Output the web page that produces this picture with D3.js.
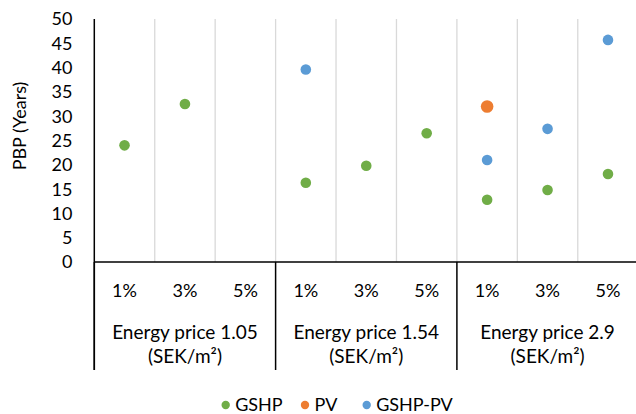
<!DOCTYPE html>
<html><head><meta charset="utf-8">
<script src="https://cdn.jsdelivr.net/npm/d3@7"></script>
<style>
html,body{margin:0;padding:0;background:#fff;}
svg{display:block;font-family:Lato,"Open Sans",sans-serif;}
</style></head>
<body><svg id="chart" width="636" height="414"></svg>
<script>
const groups = ["Energy price 1.05", "Energy price 1.54", "Energy price 2.9"];
const groupUnits = ["(SEK/m²)", "(SEK/m²)", "(SEK/m²)"];
const rates = ["1%", "3%", "5%"];
const gshp    = [24.0, 32.5, null, 16.3, 19.8, 26.5, 12.8, 14.8, 18.1];
const pv      = [null, null, null, null, null, null, 32.0, null, null];
const gshpPv  = [null, null, null, 39.6, null, null, 21.0, 27.4, 45.7];
const yTicks = [0,5,10,15,20,25,30,35,40,45,50];
const seriesNames = ["GSHP", "PV", "GSHP-PV"];
const seriesColors = ["#70AD47", "#ED7D31", "#5B9BD5"];
const seriesRadius = [5.3, 6.3, 5.3];

const svg = d3.select("#chart");
const M = {left: 94.3, right: 638.2, top: 19, bottom: 262, axisBottom: 370};

const cats = [];
groups.forEach((g, gi) => rates.forEach((r, ri) => cats.push({key: gi + "|" + r, group: gi, rate: r})));

const x = d3.scaleBand().domain(cats.map(c => c.key)).range([M.left, M.right]).padding(0);
const y = d3.scaleLinear().domain([0, 50]).range([M.bottom, M.top]);

// vertical gridlines at category boundaries
const boundaries = cats.slice(1).map(c => x(c.key));
svg.append("g").selectAll("line").data(boundaries).join("line")
  .attr("x1", d => d).attr("x2", d => d)
  .attr("y1", M.top).attr("y2", M.bottom)
  .attr("stroke", "#d9d9d9").attr("stroke-width", 1.3);

// group separators below the axis
const groupEdges = groups.map((g, gi) => x(gi + "|" + rates[0])).concat([x(cats[cats.length-1].key) + x.bandwidth()]);
svg.append("g").selectAll("line").data(groupEdges).join("line")
  .attr("x1", d => d).attr("x2", d => d)
  .attr("y1", M.bottom).attr("y2", M.axisBottom)
  .attr("stroke", "#000").attr("stroke-width", 1.5);

// y axis
svg.append("line").attr("x1", M.left).attr("x2", M.left).attr("y1", M.top).attr("y2", M.axisBottom)
  .attr("stroke", "#000").attr("stroke-width", 1.5);
// x axis
svg.append("line").attr("x1", M.left).attr("x2", M.right).attr("y1", M.bottom).attr("y2", M.bottom)
  .attr("stroke", "#000").attr("stroke-width", 1.5);

// y tick labels
svg.append("g").selectAll("text").data(yTicks).join("text")
  .attr("x", 72.5).attr("y", d => y(d)).attr("dy", "0.36em")
  .attr("text-anchor", "end").attr("font-size", 18).attr("fill", "#000")
  .text(d => d);

// y title
svg.append("text").attr("transform", "translate(26,126) rotate(-90)")
  .attr("text-anchor", "middle").attr("font-size", 18).attr("fill", "#000")
  .text("PBP (Years)");

// category labels
svg.append("g").selectAll("text").data(cats).join("text")
  .attr("x", d => x(d.key) + x.bandwidth()/2).attr("y", 296.5)
  .attr("text-anchor", "middle").attr("font-size", 18).attr("fill", "#000")
  .text(d => d.rate);

// group labels
groups.forEach((g, gi) => {
  const cx = (groupEdges[gi] + groupEdges[gi+1]) / 2;
  svg.append("text").attr("x", cx).attr("y", 338.5).attr("text-anchor", "middle")
    .attr("font-size", 19).attr("fill", "#000").text(g);
  svg.append("text").attr("x", cx).attr("y", 362.5).attr("text-anchor", "middle")
    .attr("font-size", 19).attr("fill", "#000").text(groupUnits[gi]);
});

// points
[gshp, pv, gshpPv].forEach((vals, si) => {
  svg.append("g").selectAll("circle")
    .data(vals.map((v, i) => ({v, i})).filter(d => d.v !== null))
    .join("circle")
    .attr("cx", d => x(cats[d.i].key) + x.bandwidth()/2)
    .attr("cy", d => y(d.v))
    .attr("r", seriesRadius[si])
    .attr("fill", seriesColors[si]);
});

// legend
const legendX = [225.7, 305, 366.7];
const lg = svg.append("g");
seriesNames.forEach((n, i) => {
  lg.append("circle").attr("cx", legendX[i]).attr("cy", 405).attr("r", 4.2).attr("fill", seriesColors[i]);
  lg.append("text").attr("x", legendX[i] + 9.5).attr("y", 405).attr("dy", "0.36em")
    .attr("font-size", 18).attr("fill", "#000").text(n);
});
</script></body></html>
